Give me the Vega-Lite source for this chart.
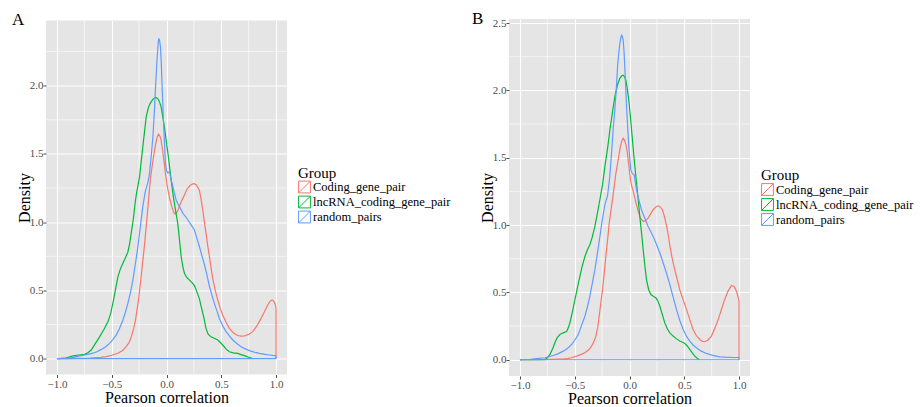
{
  "$schema": "https://vega.github.io/schema/vega-lite/v6.json",
  "background": "white",
  "padding": {"left": 12, "top": 10, "right": 0, "bottom": 0},
  "bounds": "flush",
  "center": true,
  "spacing": 222,
  "config": {
    "font": "Liberation Serif",
    "view": {"fill": "#E5E5E5", "stroke": null},
    "axis": {
      "domain": false, "grid": true, "gridColor": "white", "gridWidth": 1.1,
      "tickColor": "#4D4D4D", "tickSize": 3, "tickWidth": 1,
      "labelFont": "Liberation Serif", "labelFontSize": 11, "labelColor": "#4D4D4D",
      "titleFont": "Liberation Serif", "titleFontSize": 16, "titleFontWeight": "normal", "titleColor": "black"
    },
    "axisX": {"labelPadding": 0.5, "titlePadding": 0},
    "axisY": {"labelPadding": 0, "titlePadding": -3},
    "legend": {
      "orient": "none", "legendX": 252, "padding": 0,
      "titleFont": "Liberation Serif", "titleFontSize": 15, "titleFontWeight": "normal", "titleColor": "black", "titlePadding": 0,
      "labelFont": "Liberation Serif", "labelFontSize": 12.5, "labelColor": "black", "labelOffset": 2,
      "symbolType": "M-1,-1H1V1H-1ZM-1,1L1,-1", "symbolSize": 140, "symbolStrokeWidth": 1, "rowPadding": -2
    },
    "title": {"font": "Liberation Serif", "fontSize": 17, "fontWeight": "normal", "color": "black", "anchor": "start", "frame": "group", "baseline": "alphabetic"}
  },
  "datasets": {
    "minorX": [{"v": -0.75}, {"v": -0.25}, {"v": 0.25}, {"v": 0.75}],
    "minorY": [{"v": 0.25}, {"v": 0.75}, {"v": 1.25}, {"v": 1.75}, {"v": 2.25}],
    "segA": [
      {"g": "Coding_gene_pair", "x": 1, "x2": 1, "y": 0, "y2": 0.37},
      {"g": "random_pairs", "x": 1, "x2": 1, "y": 0, "y2": 0.022},
      {"g": "random_pairs", "x": -1, "x2": 1, "y": 0, "y2": 0}
    ],
    "segB": [
      {"g": "Coding_gene_pair", "x": 1, "x2": 1, "y": 0, "y2": 0.436},
      {"g": "random_pairs", "x": 1, "x2": 1, "y": 0, "y2": 0.017},
      {"g": "random_pairs", "x": -1, "x2": 1, "y": 0, "y2": 0}
    ],
    "A_cod": [
      {"x": -1, "y": 0}, {"x": -0.9, "y": 0}, {"x": -0.8, "y": 0.002}, {"x": -0.7, "y": 0.005}, {"x": -0.6, "y": 0.01},
      {"x": -0.55, "y": 0.015}, {"x": -0.5, "y": 0.025}, {"x": -0.444, "y": 0.04}, {"x": -0.4, "y": 0.06}, {"x": -0.368, "y": 0.088},
      {"x": -0.34, "y": 0.12}, {"x": -0.322, "y": 0.16}, {"x": -0.3, "y": 0.22}, {"x": -0.283, "y": 0.283}, {"x": -0.265, "y": 0.38},
      {"x": -0.252, "y": 0.454}, {"x": -0.237, "y": 0.56}, {"x": -0.222, "y": 0.674}, {"x": -0.205, "y": 0.8}, {"x": -0.191, "y": 0.918},
      {"x": -0.175, "y": 1.06}, {"x": -0.16, "y": 1.2}, {"x": -0.145, "y": 1.33}, {"x": -0.124, "y": 1.45}, {"x": -0.1, "y": 1.57},
      {"x": -0.085, "y": 1.625}, {"x": -0.073, "y": 1.645}, {"x": -0.06, "y": 1.63}, {"x": -0.049, "y": 1.6}, {"x": -0.036, "y": 1.53},
      {"x": -0.024, "y": 1.455}, {"x": -0.01, "y": 1.36}, {"x": 0.003, "y": 1.285}, {"x": 0.015, "y": 1.23}, {"x": 0.03, "y": 1.17},
      {"x": 0.045, "y": 1.125}, {"x": 0.058, "y": 1.09}, {"x": 0.07, "y": 1.065}, {"x": 0.079, "y": 1.06}, {"x": 0.09, "y": 1.065},
      {"x": 0.105, "y": 1.09}, {"x": 0.119, "y": 1.12}, {"x": 0.14, "y": 1.16}, {"x": 0.164, "y": 1.2}, {"x": 0.185, "y": 1.24},
      {"x": 0.21, "y": 1.265}, {"x": 0.235, "y": 1.28}, {"x": 0.255, "y": 1.282}, {"x": 0.275, "y": 1.27}, {"x": 0.3, "y": 1.235},
      {"x": 0.315, "y": 1.17}, {"x": 0.331, "y": 1.09}, {"x": 0.346, "y": 1.0}, {"x": 0.361, "y": 0.918}, {"x": 0.376, "y": 0.83},
      {"x": 0.392, "y": 0.747}, {"x": 0.407, "y": 0.665}, {"x": 0.422, "y": 0.588}, {"x": 0.445, "y": 0.5}, {"x": 0.468, "y": 0.43},
      {"x": 0.49, "y": 0.37}, {"x": 0.513, "y": 0.32}, {"x": 0.545, "y": 0.265}, {"x": 0.574, "y": 0.222}, {"x": 0.61, "y": 0.19},
      {"x": 0.65, "y": 0.17}, {"x": 0.68, "y": 0.165}, {"x": 0.711, "y": 0.166}, {"x": 0.75, "y": 0.178}, {"x": 0.787, "y": 0.198},
      {"x": 0.825, "y": 0.24}, {"x": 0.863, "y": 0.295}, {"x": 0.895, "y": 0.345}, {"x": 0.924, "y": 0.393}, {"x": 0.945, "y": 0.42},
      {"x": 0.964, "y": 0.43}, {"x": 0.98, "y": 0.42}, {"x": 0.994, "y": 0.393}, {"x": 1.0, "y": 0.37}
    ],
    "A_lnc": [
      {"x": -1, "y": 0}, {"x": -0.975, "y": 0}, {"x": -0.92, "y": 0.005}, {"x": -0.854, "y": 0.02}, {"x": -0.8, "y": 0.027},
      {"x": -0.747, "y": 0.032}, {"x": -0.715, "y": 0.045}, {"x": -0.687, "y": 0.063}, {"x": -0.65, "y": 0.11}, {"x": -0.611, "y": 0.16},
      {"x": -0.57, "y": 0.215}, {"x": -0.535, "y": 0.27}, {"x": -0.51, "y": 0.33}, {"x": -0.49, "y": 0.405}, {"x": -0.467, "y": 0.5},
      {"x": -0.444, "y": 0.6}, {"x": -0.42, "y": 0.66}, {"x": -0.398, "y": 0.7}, {"x": -0.375, "y": 0.74}, {"x": -0.353, "y": 0.78},
      {"x": -0.337, "y": 0.84}, {"x": -0.322, "y": 0.92}, {"x": -0.3, "y": 1.04}, {"x": -0.288, "y": 1.13}, {"x": -0.276, "y": 1.2},
      {"x": -0.246, "y": 1.334}, {"x": -0.216, "y": 1.554}, {"x": -0.185, "y": 1.774}, {"x": -0.165, "y": 1.84}, {"x": -0.149, "y": 1.871},
      {"x": -0.125, "y": 1.9}, {"x": -0.1, "y": 1.915}, {"x": -0.08, "y": 1.905}, {"x": -0.064, "y": 1.883}, {"x": -0.048, "y": 1.84},
      {"x": -0.034, "y": 1.774}, {"x": -0.018, "y": 1.69}, {"x": -0.003, "y": 1.6}, {"x": 0.021, "y": 1.455}, {"x": 0.042, "y": 1.31},
      {"x": 0.06, "y": 1.2}, {"x": 0.08, "y": 1.1}, {"x": 0.103, "y": 0.99}, {"x": 0.12, "y": 0.86}, {"x": 0.134, "y": 0.747},
      {"x": 0.15, "y": 0.67}, {"x": 0.164, "y": 0.625}, {"x": 0.185, "y": 0.595}, {"x": 0.21, "y": 0.576}, {"x": 0.235, "y": 0.555},
      {"x": 0.255, "y": 0.535}, {"x": 0.275, "y": 0.495}, {"x": 0.3, "y": 0.44}, {"x": 0.32, "y": 0.37}, {"x": 0.341, "y": 0.3},
      {"x": 0.361, "y": 0.22}, {"x": 0.38, "y": 0.18}, {"x": 0.407, "y": 0.16}, {"x": 0.44, "y": 0.148}, {"x": 0.468, "y": 0.137},
      {"x": 0.49, "y": 0.12}, {"x": 0.513, "y": 0.1}, {"x": 0.545, "y": 0.07}, {"x": 0.574, "y": 0.051}, {"x": 0.61, "y": 0.043},
      {"x": 0.65, "y": 0.039}, {"x": 0.68, "y": 0.03}, {"x": 0.711, "y": 0.022}, {"x": 0.75, "y": 0.01}, {"x": 0.787, "y": 0}
    ],
    "A_rnd": [
      {"x": -1, "y": 0}, {"x": -0.9, "y": 0.005}, {"x": -0.85, "y": 0.01}, {"x": -0.793, "y": 0.02}, {"x": -0.73, "y": 0.03},
      {"x": -0.671, "y": 0.04}, {"x": -0.63, "y": 0.052}, {"x": -0.595, "y": 0.068}, {"x": -0.555, "y": 0.088}, {"x": -0.52, "y": 0.112},
      {"x": -0.49, "y": 0.14}, {"x": -0.459, "y": 0.173}, {"x": -0.43, "y": 0.22}, {"x": -0.398, "y": 0.283}, {"x": -0.375, "y": 0.34},
      {"x": -0.353, "y": 0.405}, {"x": -0.33, "y": 0.48}, {"x": -0.307, "y": 0.576}, {"x": -0.285, "y": 0.69}, {"x": -0.261, "y": 0.82},
      {"x": -0.24, "y": 0.96}, {"x": -0.216, "y": 1.114}, {"x": -0.195, "y": 1.22}, {"x": -0.17, "y": 1.29}, {"x": -0.155, "y": 1.358},
      {"x": -0.14, "y": 1.48}, {"x": -0.124, "y": 1.626}, {"x": -0.11, "y": 1.82}, {"x": -0.1, "y": 1.993}, {"x": -0.085, "y": 2.213},
      {"x": -0.075, "y": 2.32}, {"x": -0.07, "y": 2.347}, {"x": -0.063, "y": 2.33}, {"x": -0.055, "y": 2.286}, {"x": -0.047, "y": 2.15},
      {"x": -0.04, "y": 1.993}, {"x": -0.032, "y": 1.83}, {"x": -0.024, "y": 1.675}, {"x": -0.016, "y": 1.54}, {"x": -0.009, "y": 1.431},
      {"x": 0.0, "y": 1.38}, {"x": 0.012, "y": 1.36}, {"x": 0.02, "y": 1.365}, {"x": 0.027, "y": 1.37}, {"x": 0.035, "y": 1.34},
      {"x": 0.051, "y": 1.285}, {"x": 0.07, "y": 1.22}, {"x": 0.088, "y": 1.163}, {"x": 0.103, "y": 1.135}, {"x": 0.119, "y": 1.114},
      {"x": 0.15, "y": 1.065}, {"x": 0.175, "y": 1.04}, {"x": 0.195, "y": 1.016}, {"x": 0.225, "y": 0.98}, {"x": 0.255, "y": 0.943},
      {"x": 0.278, "y": 0.88}, {"x": 0.301, "y": 0.82}, {"x": 0.323, "y": 0.755}, {"x": 0.346, "y": 0.69}, {"x": 0.37, "y": 0.61},
      {"x": 0.392, "y": 0.53}, {"x": 0.415, "y": 0.465}, {"x": 0.437, "y": 0.405}, {"x": 0.46, "y": 0.35}, {"x": 0.483, "y": 0.295},
      {"x": 0.513, "y": 0.24}, {"x": 0.544, "y": 0.198}, {"x": 0.575, "y": 0.165}, {"x": 0.605, "y": 0.137}, {"x": 0.645, "y": 0.11},
      {"x": 0.681, "y": 0.088}, {"x": 0.72, "y": 0.072}, {"x": 0.757, "y": 0.059}, {"x": 0.8, "y": 0.048}, {"x": 0.848, "y": 0.039},
      {"x": 0.9, "y": 0.031}, {"x": 0.939, "y": 0.027}, {"x": 0.97, "y": 0.024}, {"x": 1.0, "y": 0.022}
    ],
    "B_cod": [
      {"x": -1, "y": 0}, {"x": -0.9, "y": 0}, {"x": -0.8, "y": 0.002}, {"x": -0.7, "y": 0.004}, {"x": -0.6, "y": 0.006},
      {"x": -0.574, "y": 0.007}, {"x": -0.53, "y": 0.015}, {"x": -0.483, "y": 0.027}, {"x": -0.445, "y": 0.038}, {"x": -0.407, "y": 0.052},
      {"x": -0.375, "y": 0.072}, {"x": -0.347, "y": 0.1}, {"x": -0.325, "y": 0.135}, {"x": -0.307, "y": 0.175}, {"x": -0.29, "y": 0.24},
      {"x": -0.277, "y": 0.323}, {"x": -0.262, "y": 0.42}, {"x": -0.246, "y": 0.52}, {"x": -0.231, "y": 0.64}, {"x": -0.216, "y": 0.767},
      {"x": -0.2, "y": 0.89}, {"x": -0.185, "y": 1.015}, {"x": -0.167, "y": 1.12}, {"x": -0.15, "y": 1.22}, {"x": -0.125, "y": 1.38},
      {"x": -0.1, "y": 1.5}, {"x": -0.085, "y": 1.575}, {"x": -0.07, "y": 1.625}, {"x": -0.058, "y": 1.645}, {"x": -0.045, "y": 1.63},
      {"x": -0.033, "y": 1.6}, {"x": -0.022, "y": 1.55}, {"x": -0.012, "y": 1.484}, {"x": 0.0, "y": 1.4}, {"x": 0.009, "y": 1.335},
      {"x": 0.02, "y": 1.29}, {"x": 0.033, "y": 1.255}, {"x": 0.049, "y": 1.2}, {"x": 0.064, "y": 1.15}, {"x": 0.08, "y": 1.1},
      {"x": 0.1, "y": 1.052}, {"x": 0.115, "y": 1.035}, {"x": 0.131, "y": 1.027}, {"x": 0.15, "y": 1.035}, {"x": 0.17, "y": 1.052},
      {"x": 0.195, "y": 1.085}, {"x": 0.216, "y": 1.114}, {"x": 0.24, "y": 1.135}, {"x": 0.261, "y": 1.143}, {"x": 0.28, "y": 1.135},
      {"x": 0.301, "y": 1.114}, {"x": 0.32, "y": 1.06}, {"x": 0.337, "y": 1.0}, {"x": 0.353, "y": 0.93}, {"x": 0.368, "y": 0.85},
      {"x": 0.39, "y": 0.75}, {"x": 0.413, "y": 0.67}, {"x": 0.436, "y": 0.595}, {"x": 0.459, "y": 0.52}, {"x": 0.49, "y": 0.445},
      {"x": 0.52, "y": 0.374}, {"x": 0.55, "y": 0.3}, {"x": 0.58, "y": 0.225}, {"x": 0.61, "y": 0.18}, {"x": 0.641, "y": 0.151},
      {"x": 0.665, "y": 0.137}, {"x": 0.687, "y": 0.134}, {"x": 0.715, "y": 0.145}, {"x": 0.748, "y": 0.176}, {"x": 0.78, "y": 0.235},
      {"x": 0.81, "y": 0.3}, {"x": 0.84, "y": 0.375}, {"x": 0.869, "y": 0.448}, {"x": 0.9, "y": 0.51}, {"x": 0.93, "y": 0.552},
      {"x": 0.955, "y": 0.545}, {"x": 0.976, "y": 0.51}, {"x": 0.99, "y": 0.47}, {"x": 1.0, "y": 0.436}
    ],
    "B_lnc": [
      {"x": -1, "y": 0}, {"x": -0.9, "y": 0}, {"x": -0.772, "y": 0}, {"x": -0.75, "y": 0.015}, {"x": -0.726, "y": 0.04},
      {"x": -0.7, "y": 0.085}, {"x": -0.681, "y": 0.126}, {"x": -0.66, "y": 0.165}, {"x": -0.635, "y": 0.187}, {"x": -0.605, "y": 0.2},
      {"x": -0.574, "y": 0.21}, {"x": -0.56, "y": 0.235}, {"x": -0.544, "y": 0.274}, {"x": -0.52, "y": 0.36}, {"x": -0.498, "y": 0.447},
      {"x": -0.475, "y": 0.535}, {"x": -0.453, "y": 0.62}, {"x": -0.43, "y": 0.7}, {"x": -0.407, "y": 0.767}, {"x": -0.385, "y": 0.815},
      {"x": -0.362, "y": 0.854}, {"x": -0.34, "y": 0.91}, {"x": -0.316, "y": 0.99}, {"x": -0.295, "y": 1.08}, {"x": -0.27, "y": 1.19},
      {"x": -0.246, "y": 1.3}, {"x": -0.225, "y": 1.434}, {"x": -0.2, "y": 1.57}, {"x": -0.179, "y": 1.706}, {"x": -0.155, "y": 1.84},
      {"x": -0.134, "y": 1.953}, {"x": -0.11, "y": 2.04}, {"x": -0.088, "y": 2.09}, {"x": -0.07, "y": 2.108}, {"x": -0.058, "y": 2.113},
      {"x": -0.045, "y": 2.1}, {"x": -0.033, "y": 2.076}, {"x": -0.018, "y": 2.0}, {"x": -0.003, "y": 1.903}, {"x": 0.012, "y": 1.77},
      {"x": 0.027, "y": 1.632}, {"x": 0.04, "y": 1.51}, {"x": 0.055, "y": 1.385}, {"x": 0.067, "y": 1.29}, {"x": 0.079, "y": 1.19},
      {"x": 0.094, "y": 1.064}, {"x": 0.11, "y": 0.94}, {"x": 0.125, "y": 0.817}, {"x": 0.14, "y": 0.7}, {"x": 0.155, "y": 0.595},
      {"x": 0.175, "y": 0.52}, {"x": 0.195, "y": 0.484}, {"x": 0.22, "y": 0.47}, {"x": 0.24, "y": 0.46}, {"x": 0.26, "y": 0.435},
      {"x": 0.277, "y": 0.397}, {"x": 0.3, "y": 0.335}, {"x": 0.322, "y": 0.274}, {"x": 0.345, "y": 0.23}, {"x": 0.368, "y": 0.2},
      {"x": 0.398, "y": 0.176}, {"x": 0.43, "y": 0.155}, {"x": 0.459, "y": 0.139}, {"x": 0.485, "y": 0.13}, {"x": 0.505, "y": 0.121},
      {"x": 0.53, "y": 0.1}, {"x": 0.55, "y": 0.077}, {"x": 0.575, "y": 0.05}, {"x": 0.596, "y": 0.027}, {"x": 0.62, "y": 0.01},
      {"x": 0.64, "y": 0}
    ],
    "B_rnd": [
      {"x": -1, "y": 0}, {"x": -0.9, "y": 0.004}, {"x": -0.85, "y": 0.008}, {"x": -0.772, "y": 0.015}, {"x": -0.73, "y": 0.024},
      {"x": -0.696, "y": 0.032}, {"x": -0.65, "y": 0.046}, {"x": -0.605, "y": 0.064}, {"x": -0.565, "y": 0.085}, {"x": -0.529, "y": 0.113},
      {"x": -0.5, "y": 0.145}, {"x": -0.468, "y": 0.187}, {"x": -0.44, "y": 0.25}, {"x": -0.407, "y": 0.323}, {"x": -0.385, "y": 0.39},
      {"x": -0.362, "y": 0.471}, {"x": -0.34, "y": 0.565}, {"x": -0.316, "y": 0.669}, {"x": -0.293, "y": 0.79}, {"x": -0.27, "y": 0.916},
      {"x": -0.248, "y": 1.04}, {"x": -0.225, "y": 1.15}, {"x": -0.2, "y": 1.22}, {"x": -0.18, "y": 1.36}, {"x": -0.164, "y": 1.533},
      {"x": -0.15, "y": 1.7}, {"x": -0.134, "y": 1.854}, {"x": -0.12, "y": 2.02}, {"x": -0.109, "y": 2.175}, {"x": -0.098, "y": 2.28},
      {"x": -0.088, "y": 2.348}, {"x": -0.08, "y": 2.39}, {"x": -0.073, "y": 2.41}, {"x": -0.065, "y": 2.4}, {"x": -0.058, "y": 2.373},
      {"x": -0.05, "y": 2.29}, {"x": -0.043, "y": 2.175}, {"x": -0.035, "y": 2.03}, {"x": -0.027, "y": 1.879}, {"x": -0.016, "y": 1.72},
      {"x": -0.006, "y": 1.582}, {"x": 0.003, "y": 1.49}, {"x": 0.012, "y": 1.41}, {"x": 0.027, "y": 1.38}, {"x": 0.043, "y": 1.373},
      {"x": 0.053, "y": 1.32}, {"x": 0.064, "y": 1.261}, {"x": 0.079, "y": 1.212}, {"x": 0.094, "y": 1.16}, {"x": 0.109, "y": 1.114},
      {"x": 0.14, "y": 1.05}, {"x": 0.17, "y": 0.99}, {"x": 0.195, "y": 0.95}, {"x": 0.216, "y": 0.916}, {"x": 0.245, "y": 0.86},
      {"x": 0.277, "y": 0.793}, {"x": 0.307, "y": 0.72}, {"x": 0.337, "y": 0.644}, {"x": 0.368, "y": 0.56}, {"x": 0.4, "y": 0.46},
      {"x": 0.43, "y": 0.37}, {"x": 0.46, "y": 0.29}, {"x": 0.49, "y": 0.225}, {"x": 0.52, "y": 0.175}, {"x": 0.55, "y": 0.139},
      {"x": 0.58, "y": 0.11}, {"x": 0.611, "y": 0.089}, {"x": 0.65, "y": 0.066}, {"x": 0.702, "y": 0.047}, {"x": 0.76, "y": 0.032},
      {"x": 0.824, "y": 0.022}, {"x": 0.88, "y": 0.019}, {"x": 0.945, "y": 0.017}, {"x": 1.0, "y": 0.017}
    ]
  },
  "resolve": {"scale": {"color": "independent", "x": "independent", "y": "independent"}, "legend": {"color": "independent"}},
  "hconcat": [
    {
      "width": 241, "height": 354,
      "title": {"text": "A", "dx": -34, "offset": -9},
      "layer": [
        {"data": {"name": "minorX"}, "mark": {"type": "rule", "stroke": "white", "strokeWidth": 0.6},
         "encoding": {"x": {"field": "v", "type": "quantitative", "scale": {"domain": [-1.1, 1.1], "nice": false, "zero": false}, "axis": {"values": [-1, -0.5, 0, 0.5, 1], "format": ".1f", "title": "Pearson correlation"}}}},
        {"data": {"name": "minorY"}, "mark": {"type": "rule", "stroke": "white", "strokeWidth": 0.6},
         "encoding": {"y": {"field": "v", "type": "quantitative", "scale": {"domain": [-0.116, 2.478], "nice": false, "zero": false}, "axis": {"values": [0, 0.5, 1, 1.5, 2], "format": ".1f", "title": "Density"}}}},
        {"data": {"name": "A_cod"}, "mark": {"type": "line", "strokeWidth": 1.2},
         "encoding": {
           "x": {"field": "x", "type": "quantitative", "scale": {"domain": [-1.1, 1.1], "nice": false, "zero": false}, "axis": {"values": [-1, -0.5, 0, 0.5, 1], "format": ".1f", "title": "Pearson correlation"}},
           "y": {"field": "y", "type": "quantitative", "scale": {"domain": [-0.116, 2.478], "nice": false, "zero": false}, "axis": {"values": [0, 0.5, 1, 1.5, 2], "format": ".1f", "title": "Density"}},
           "color": {"datum": "Coding_gene_pair", "title": "Group", "legend": {"legendY": 145}, "scale": {"domain": ["Coding_gene_pair", "lncRNA_coding_gene_pair", "random_pairs"], "range": ["#F8766D", "#00BA38", "#619CFF"]}}}},
        {"data": {"name": "A_lnc"}, "mark": {"type": "line", "strokeWidth": 1.2},
         "encoding": {"x": {"field": "x", "type": "quantitative"}, "y": {"field": "y", "type": "quantitative"}, "color": {"datum": "lncRNA_coding_gene_pair", "title": "Group", "legend": {"legendY": 145}}}},
        {"data": {"name": "A_rnd"}, "mark": {"type": "line", "strokeWidth": 1.2},
         "encoding": {"x": {"field": "x", "type": "quantitative"}, "y": {"field": "y", "type": "quantitative"}, "color": {"datum": "random_pairs", "title": "Group", "legend": {"legendY": 145}}}},
        {"data": {"name": "segA"}, "mark": {"type": "rule", "strokeWidth": 1.2},
         "encoding": {"x": {"field": "x", "type": "quantitative"}, "x2": {"field": "x2"}, "y": {"field": "y", "type": "quantitative"}, "y2": {"field": "y2"}, "color": {"field": "g", "type": "nominal", "title": "Group", "legend": {"legendY": 145}}}}
      ]
    },
    {
      "width": 241, "height": 357,
      "title": {"text": "B", "dx": -37, "offset": -11},
      "layer": [
        {"data": {"name": "minorX"}, "mark": {"type": "rule", "stroke": "white", "strokeWidth": 0.6},
         "encoding": {"x": {"field": "v", "type": "quantitative", "scale": {"domain": [-1.1, 1.1], "nice": false, "zero": false}, "axis": {"values": [-1, -0.5, 0, 0.5, 1], "format": ".1f", "title": "Pearson correlation"}}}},
        {"data": {"name": "minorY"}, "mark": {"type": "rule", "stroke": "white", "strokeWidth": 0.6},
         "encoding": {"y": {"field": "v", "type": "quantitative", "scale": {"domain": [-0.1205, 2.53], "nice": false, "zero": false}, "axis": {"values": [0, 0.5, 1, 1.5, 2, 2.5], "format": ".1f", "title": "Density"}}}},
        {"data": {"name": "B_cod"}, "mark": {"type": "line", "strokeWidth": 1.2},
         "encoding": {
           "x": {"field": "x", "type": "quantitative", "scale": {"domain": [-1.1, 1.1], "nice": false, "zero": false}, "axis": {"values": [-1, -0.5, 0, 0.5, 1], "format": ".1f", "title": "Pearson correlation"}},
           "y": {"field": "y", "type": "quantitative", "scale": {"domain": [-0.1205, 2.53], "nice": false, "zero": false}, "axis": {"values": [0, 0.5, 1, 1.5, 2, 2.5], "format": ".1f", "title": "Density"}},
           "color": {"datum": "Coding_gene_pair", "title": "Group", "legend": {"legendY": 149}, "scale": {"domain": ["Coding_gene_pair", "lncRNA_coding_gene_pair", "random_pairs"], "range": ["#F8766D", "#00BA38", "#619CFF"]}}}},
        {"data": {"name": "B_lnc"}, "mark": {"type": "line", "strokeWidth": 1.2},
         "encoding": {"x": {"field": "x", "type": "quantitative"}, "y": {"field": "y", "type": "quantitative"}, "color": {"datum": "lncRNA_coding_gene_pair", "title": "Group", "legend": {"legendY": 149}}}},
        {"data": {"name": "B_rnd"}, "mark": {"type": "line", "strokeWidth": 1.2},
         "encoding": {"x": {"field": "x", "type": "quantitative"}, "y": {"field": "y", "type": "quantitative"}, "color": {"datum": "random_pairs", "title": "Group", "legend": {"legendY": 149}}}},
        {"data": {"name": "segB"}, "mark": {"type": "rule", "strokeWidth": 1.2},
         "encoding": {"x": {"field": "x", "type": "quantitative"}, "x2": {"field": "x2"}, "y": {"field": "y", "type": "quantitative"}, "y2": {"field": "y2"}, "color": {"field": "g", "type": "nominal", "title": "Group", "legend": {"legendY": 149}}}}
      ]
    }
  ]
}
